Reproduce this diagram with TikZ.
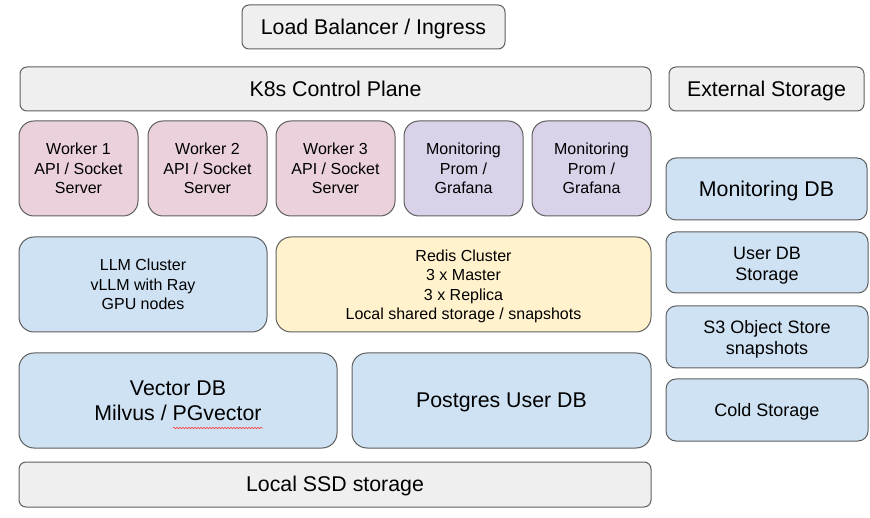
\documentclass[tikz,border=0pt]{standalone}
\usepackage{fontspec}
\setmainfont{Liberation Sans}
\usetikzlibrary{decorations.pathmorphing}
\definecolor{grayfill}{HTML}{EFEFEF}
\definecolor{pinkfill}{HTML}{EAD1DC}
\definecolor{purplefill}{HTML}{D9D2E9}
\definecolor{bluefill}{HTML}{CFE2F3}
\definecolor{yellowfill}{HTML}{FFF2CC}
\definecolor{edge}{HTML}{5F5F5F}
\tikzset{
  box/.style={draw=edge, line width=1pt, inner sep=0pt, align=center, text=black},
  big/.style={font=\fontsize{21.33}{25}\selectfont},
  small/.style={font=\fontsize{16}{19.5}\selectfont},
  mid/.style={font=\fontsize{18}{21}\selectfont},
  onebig/.style={text height=19.3pt, text depth=4.52pt},
  onemid/.style={text height=16.3pt, text depth=3.8pt},
  flat/.style={rounded corners=7pt},
  tall/.style={rounded corners=15pt},
  medium/.style={rounded corners=10pt},
}
\begin{document}
\begin{tikzpicture}[x=1pt,y=-1pt]
\useasboundingbox (0,0) rectangle (870,518);
\fill[white] (0,0) rectangle (870,518);

\node[box,big,onebig,flat,fill=grayfill,minimum width=263pt,minimum height=44pt] (lb) at (373.5,27) {Load Balancer / Ingress};
\node[box,big,onebig,flat,fill=grayfill,minimum width=631pt,minimum height=44pt] (k8s) at (335.5,89) {K8s Control Plane};
\node[box,big,onebig,flat,fill=grayfill,minimum width=195pt,minimum height=44pt] (ext) at (766.5,89) {External Storage};

\node[box,small,tall,fill=pinkfill,minimum width=119pt,minimum height=95pt] (w1) at (78.5,168.5) {Worker 1\\API / Socket\\Server};
\node[box,small,tall,fill=pinkfill,minimum width=119pt,minimum height=95pt] (w2) at (207.5,168.5) {Worker 2\\API / Socket\\Server};
\node[box,small,tall,fill=pinkfill,minimum width=119pt,minimum height=95pt] (w3) at (335.5,168.5) {Worker 3\\API / Socket\\Server};
\node[box,small,tall,fill=purplefill,minimum width=119pt,minimum height=95pt] (m1) at (463.5,168.5) {Monitoring\\Prom /\\Grafana};
\node[box,small,tall,fill=purplefill,minimum width=119pt,minimum height=95pt] (m2) at (591.5,168.5) {Monitoring\\Prom /\\Grafana};

\node[box,big,onebig,medium,fill=bluefill,minimum width=201pt,minimum height=62pt] (mdb) at (766.5,189) {Monitoring DB};

\node[box,small,tall,fill=bluefill,minimum width=248pt,minimum height=95pt] (llm) at (143,284.5) {LLM Cluster\\vLLM with Ray\\GPU nodes};
\node[box,small,tall,fill=yellowfill,minimum width=375pt,minimum height=95pt] (redis) at (463.5,284.5) {};
\node[small,align=center,inner sep=0pt] (redistext) at (463.5,286.5) {Redis Cluster\\3 x Master\\3 x Replica\\Local shared storage / snapshots};

\node[box,mid,medium,fill=bluefill,minimum width=202pt,minimum height=61pt] (udb) at (767,262.5) {};
\node[mid,align=center,inner sep=0pt] (udbtext) at (767,265.5) {User DB\\Storage};
\node[box,mid,medium,fill=bluefill,minimum width=202pt,minimum height=62pt] (s3) at (767,337) {};
\node[mid,align=center,inner sep=0pt] (s3text) at (767,339) {S3 Object Store\\snapshots};
\node[box,mid,onemid,medium,fill=bluefill,minimum width=202pt,minimum height=62pt] (cold) at (767,410) {Cold Storage};

\node[box,big,tall,fill=bluefill,minimum width=318pt,minimum height=95pt] (vdb) at (178,400.5) {Vector DB\\Milvus / PGvector};
\node[box,big,onebig,tall,fill=bluefill,minimum width=299pt,minimum height=95pt] (pg) at (501.5,400.5) {Postgres User DB};

\node[box,big,onebig,flat,fill=grayfill,minimum width=632pt,minimum height=45pt] (ssd) at (335,484.5) {Local SSD storage};

\draw[red!80!white, line width=0.5pt, decorate, decoration={snake, amplitude=0.8pt, segment length=3pt}] (173,428) -- (263,428);
\end{tikzpicture}
\end{document}
